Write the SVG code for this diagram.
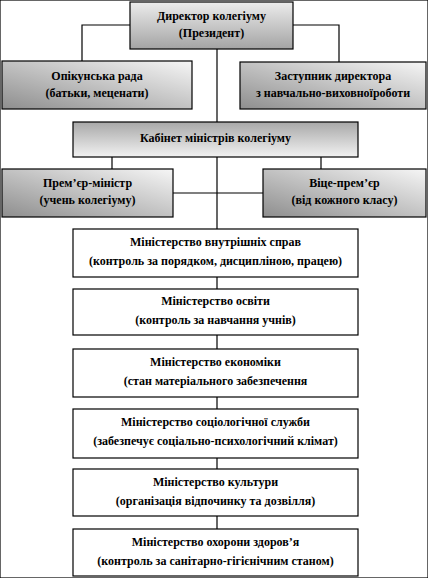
<svg xmlns="http://www.w3.org/2000/svg" width="428" height="578" viewBox="0 0 428 578">
<defs>
<linearGradient id="gTop" x1="0" y1="0" x2="0" y2="1">
<stop offset="0" stop-color="#ececec"/><stop offset="1" stop-color="#a4a4a4"/>
</linearGradient>
<linearGradient id="gCab" x1="0" y1="0" x2="0" y2="1">
<stop offset="0" stop-color="#a8a8a8"/><stop offset="1" stop-color="#f2f2f2"/>
</linearGradient>
<linearGradient id="gSide" x1="0" y1="1" x2="1" y2="0">
<stop offset="0" stop-color="#8e8e8e"/><stop offset="1" stop-color="#f6f6f6"/>
</linearGradient>
</defs>
<style>
rect{stroke:#000;stroke-width:1.2}
.w{fill:#fff}
text{font-family:'Liberation Serif','DejaVu Serif',serif;font-weight:700;font-size:12px;text-anchor:middle;fill:#000}
#connectors line,#connectors path{stroke:#000;stroke-width:1.2;fill:none}
</style>
<rect x="0" y="0" width="428" height="578" fill="#fff" stroke="none"/>
<g id="connectors">
<line x1="217" y1="49" x2="217" y2="529"/>
<path d="M130 25H82V61"/>
<path d="M293 25H339V62"/>
<line x1="112" y1="157" x2="112" y2="169"/>
<line x1="321" y1="157" x2="321" y2="169"/>
<line x1="173" y1="193" x2="263" y2="193"/>
</g>
<g id="director">
<rect x="130" y="2" width="163" height="47" fill="url(#gTop)"/>
<text x="211.5" y="20">Директор колегіуму</text>
<text x="211.5" y="37">(Президент)</text>
</g>
<g id="opikunska">
<rect x="2" y="61" width="190" height="48" fill="url(#gSide)"/>
<text x="97" y="80">Опікунська рада</text>
<text x="97" y="97">(батьки, меценати)</text>
</g>
<g id="zastupnyk">
<rect x="240" y="62" width="186" height="47" fill="url(#gSide)"/>
<text x="333" y="80">Заступник директора</text>
<text x="333" y="97">з навчально-виховноїроботи</text>
</g>
<g id="cabinet">
<rect x="73" y="122" width="285" height="35" fill="url(#gCab)"/>
<text x="215.5" y="142">Кабінет міністрів колегіуму</text>
</g>
<g id="premier">
<rect x="2" y="169" width="171" height="48" fill="url(#gSide)"/>
<text x="87.5" y="187">Прем’єр-міністр</text>
<text x="87.5" y="204">(учень колегіуму)</text>
</g>
<g id="vice">
<rect x="263" y="169" width="163" height="48" fill="url(#gSide)"/>
<text x="344.5" y="187">Віце-прем’єр</text>
<text x="344.5" y="204">(від кожного класу)</text>
</g>
<g id="min1">
<rect class="w" x="73" y="229" width="285" height="48"/>
<text x="215.5" y="246">Міністерство внутрішніх справ</text>
<text x="215.5" y="265">(контроль за порядком, дисципліною, працею)</text>
</g>
<g id="min2">
<rect class="w" x="73" y="289" width="285" height="46"/>
<text x="215.5" y="305">Міністерство освіти</text>
<text x="215.5" y="324">(контроль за навчання учнів)</text>
</g>
<g id="min3">
<rect class="w" x="73" y="349" width="285" height="48"/>
<text x="215.5" y="366">Міністерство економіки</text>
<text x="215.5" y="385">(стан матеріального забезпечення</text>
</g>
<g id="min4">
<rect class="w" x="73" y="409" width="285" height="49"/>
<text x="215.5" y="426">Міністерство соціологічної служби</text>
<text x="215.5" y="445">(забезпечує соціально-психологічний клімат)</text>
</g>
<g id="min5">
<rect class="w" x="73" y="469" width="285" height="47"/>
<text x="215.5" y="486">Міністерство культури</text>
<text x="215.5" y="505">(організація відпочинку та дозвілля)</text>
</g>
<g id="min6">
<rect class="w" x="73" y="529" width="285" height="47"/>
<text x="215.5" y="546">Міністерство охорони здоров’я</text>
<text x="215.5" y="565">(контроль за санітарно-гігієнічним станом)</text>
</g>
</svg>
